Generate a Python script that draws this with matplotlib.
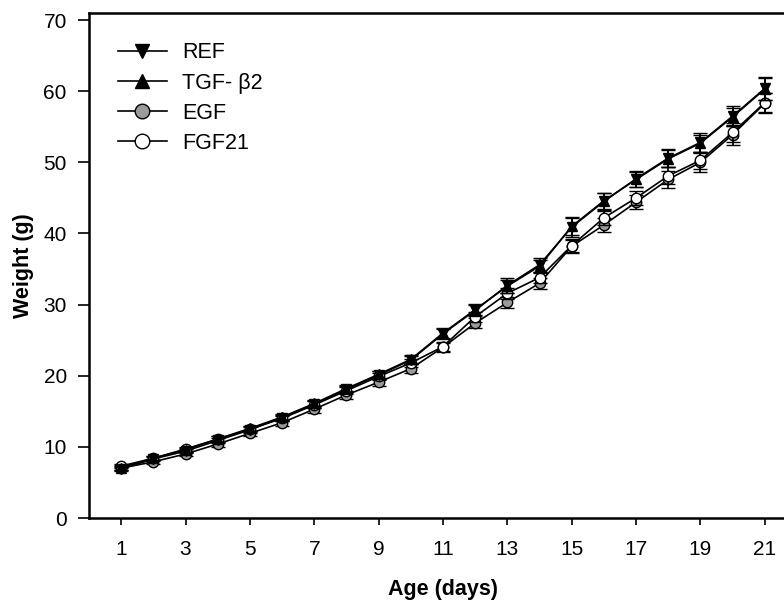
import matplotlib
matplotlib.use("Agg")
import matplotlib.pyplot as plt
from matplotlib.lines import Line2D

plt.rcParams["font.family"] = ["Liberation Sans", "DejaVu Sans"]

days = list(range(1, 22))

ref = [6.9, 8.3, 9.4, 10.9, 12.4, 14.1, 16.0, 18.1, 20.1, 22.2, 25.9,
       29.2, 32.7, 35.6, 40.9, 44.5, 47.7, 50.6, 52.8, 56.5, 60.4]
tgf = [7.1, 8.4, 9.6, 11.1, 12.6, 14.2, 16.1, 18.2, 20.2, 22.3, 26.0,
       29.3, 32.6, 35.4, 41.0, 44.6, 47.6, 50.5, 52.7, 56.4, 60.3]
egf = [7.0, 7.9, 9.0, 10.4, 11.9, 13.4, 15.3, 17.3, 19.1, 21.0, 24.0,
       27.4, 30.3, 33.0, 38.2, 41.2, 44.4, 47.6, 50.0, 53.9, 58.3]
fgf = [7.3, 8.4, 9.7, 11.1, 12.5, 14.0, 15.9, 17.9, 19.9, 21.8, 24.1,
       28.3, 31.6, 33.8, 38.3, 42.2, 45.0, 48.1, 50.3, 54.2, 58.4]

ref_err = [0.3, 0.3, 0.3, 0.4, 0.4, 0.4, 0.5, 0.5, 0.5, 0.6, 0.7,
           0.8, 1.0, 1.0, 1.4, 1.2, 1.1, 1.3, 1.3, 1.4, 1.6]
tgf_err = [0.3, 0.3, 0.3, 0.4, 0.4, 0.4, 0.5, 0.5, 0.5, 0.6, 0.7,
           0.8, 0.9, 0.9, 1.2, 1.1, 1.0, 1.2, 1.2, 1.3, 1.5]
egf_err = [0.3, 0.3, 0.3, 0.4, 0.4, 0.4, 0.5, 0.5, 0.5, 0.6, 0.6,
           0.7, 0.8, 0.8, 0.9, 1.0, 1.0, 1.2, 1.3, 1.4, 1.4]
fgf_err = [0.3, 0.3, 0.3, 0.4, 0.4, 0.4, 0.5, 0.5, 0.5, 0.6, 0.6,
           0.7, 0.8, 0.8, 0.9, 1.0, 1.0, 1.2, 1.2, 1.3, 1.3]

fig = plt.figure(figsize=(7.84, 6.04), dpi=100)
ax = fig.add_axes([89 / 784, 86 / 604, 708 / 784, 505 / 604])

series = [
    ("REF", ref, ref_err, "v", "black", 5),
    ("TGF- \u03b22", tgf, tgf_err, "^", "black", 4),
    ("EGF", egf, egf_err, "o", "#9a9a9a", 2),
    ("FGF21", fgf, fgf_err, "o", "white", 3),
]
handles = []
for label, vals, err, mk, fc, z in series:
    ax.errorbar(days, vals, yerr=err, fmt="-" + mk, color="black",
                mfc=fc, mec="black", mew=1.0, ms=7.5, lw=1.2,
                elinewidth=1.2, capsize=5, capthick=1.2, zorder=z)
    handles.append(Line2D([], [], color="black", lw=1.2, marker=mk,
                          mfc=fc, mec="black", mew=1.0, ms=10.5, label=label))

ax.set_xlim(0, 22)
ax.set_ylim(0, 71)
ax.set_xticks(range(1, 22, 2))
ax.set_yticks(range(0, 71, 10))
ax.tick_params(labelsize=15, width=1.2, direction="out")
ax.tick_params(axis="x", length=5, pad=11)
ax.tick_params(axis="y", length=8, pad=8)
for s in ax.spines.values():
    s.set_linewidth(1.8)

ax.set_xlabel("Age (days)", fontsize=15.5, fontweight="bold", labelpad=14)
ax.set_ylabel("Weight (g)", fontsize=15.5, fontweight="bold", labelpad=7)

ax.legend(handles=handles, loc="upper left", frameon=False, fontsize=15.5,
          handlelength=2.3, handletextpad=0.7, labelspacing=0.42,
          bbox_to_anchor=(0.013, 0.98))

fig.savefig("out.png", dpi=100)
